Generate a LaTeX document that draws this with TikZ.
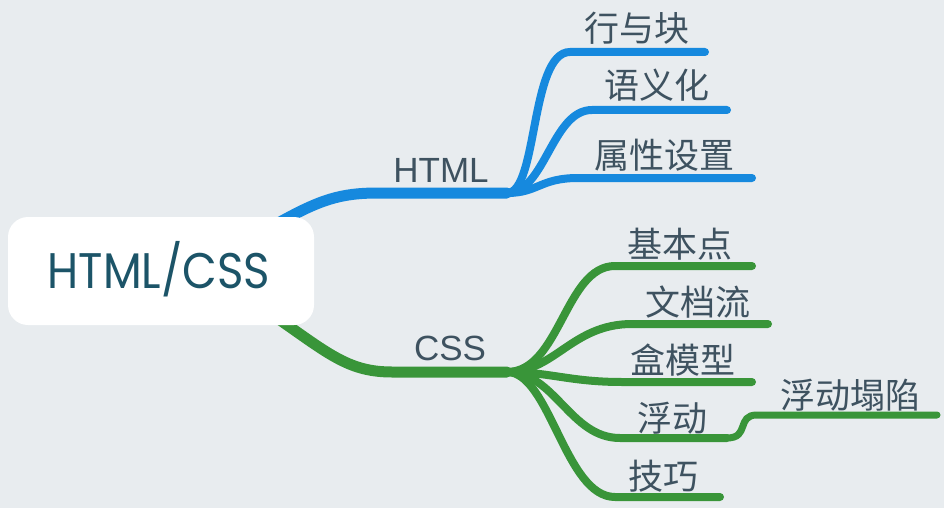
\documentclass[tikz,border=0pt]{standalone}
\usepackage{fontspec}
\setmainfont{Liberation Sans}
\newfontfamily\cjk{Noto Sans CJK SC}
\newfontfamily\rootfont{Poppins}
\definecolor{bg}{RGB}{232,236,239}
\definecolor{hblue}{RGB}{22,137,222}
\definecolor{cgreen}{RGB}{57,149,57}
\definecolor{lbl}{RGB}{62,82,96}
\definecolor{roottxt}{RGB}{28,84,104}
\begin{document}
\begin{tikzpicture}[x=1pt,y=-1pt,
  lab/.style={inner sep=0pt,text=lbl,font=\cjk\fontsize{35}{40}\selectfont},
  latlab/.style={inner sep=0pt,text=lbl,font=\fontsize{35}{40}\selectfont},
  mainbr/.style={line width=11pt,line cap=round},
  subbr/.style={line width=8pt,line cap=round},
  subsubbr/.style={line width=7pt,line cap=round},
  rootbox/.style={fill=white,rounded corners=20pt,minimum width=306pt,minimum height=108pt,inner sep=0pt}]
\fill[bg] (0,0) rectangle (944,508);
\useasboundingbox (0,0) rectangle (944,508);
% coordinates
\coordinate (hs) at (280,222);
\coordinate (hm) at (378,193);
\coordinate (he) at (507,193);
\coordinate (cs) at (280,320);
\coordinate (cm) at (392,372);
\coordinate (ce) at (507,372);
\coordinate (h1s) at (570,52);  \coordinate (h1e) at (705,52);
\coordinate (h2s) at (592,110); \coordinate (h2e) at (727,110);
\coordinate (h3s) at (578,178); \coordinate (h3e) at (752,178);
\coordinate (c1s) at (615,266); \coordinate (c1e) at (752,266);
\coordinate (c2s) at (632,324); \coordinate (c2e) at (768,324);
\coordinate (c3s) at (622,382); \coordinate (c3e) at (752,382);
\coordinate (c4s) at (620,438); \coordinate (c4e) at (727,438);
\coordinate (c5s) at (615,497); \coordinate (c5e) at (720,497);
\coordinate (c4as) at (757,415); \coordinate (c4ae) at (937,415);
% HTML branches
\draw[hblue,mainbr] (hs) .. controls (320,200) and (340,193) .. (hm) -- (he);
\draw[hblue,subbr] (he) .. controls (538,193) and (530,52) .. (h1s) -- (h1e);
\draw[hblue,subbr] (he) .. controls (545,193) and (552,110) .. (h2s) -- (h2e);
\draw[hblue,subbr] (he) .. controls (538,193) and (540,178) .. (h3s) -- (h3e);
% CSS branches
\draw[cgreen,mainbr] (cs) .. controls (330,355) and (350,372) .. (cm) -- (ce);
\draw[cgreen,subbr] (ce) .. controls (560,372) and (565,266) .. (c1s) -- (c1e);
\draw[cgreen,subbr] (ce) .. controls (555,372) and (572,324) .. (c2s) -- (c2e);
\draw[cgreen,subbr] (ce) .. controls (550,372) and (570,382) .. (c3s) -- (c3e);
\draw[cgreen,subbr] (ce) .. controls (555,372) and (570,438) .. (c4s) -- (c4e);
\draw[cgreen,subbr] (ce) .. controls (550,372) and (565,497) .. (c5s) -- (c5e);
\draw[cgreen,subsubbr] (c4e) .. controls (750,438) and (736,415) .. (c4as) -- (c4ae);
% root
\node[rootbox] (root) at (161,271) {};
\node[inner sep=0pt,text=roottxt,font=\rootfont\fontsize{50}{56}\selectfont] (roott) at (159,269) {\scalebox{0.9}[1]{HTML/CSS}};
% labels
\node[latlab] (html) at (441,170) {HTML};
\node[latlab] (css) at (450,348) {CSS};
\node[lab] (l1) at (637,28) {行与块};
\node[lab] (l2) at (657,85) {语义化};
\node[lab] (l3) at (664,155) {属性设置};
\node[lab] (l4) at (680,244) {基本点};
\node[lab] (l5) at (698,302) {文档流};
\node[lab] (l6) at (683,360) {盒模型};
\node[lab] (l7) at (672,418) {浮动};
\node[lab] (l8) at (850,395) {浮动塌陷};
\node[lab] (l9) at (663,476) {技巧};
\end{tikzpicture}
\end{document}
